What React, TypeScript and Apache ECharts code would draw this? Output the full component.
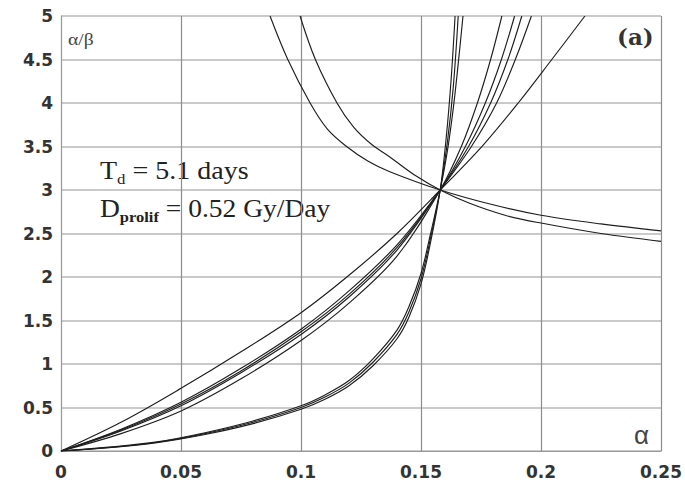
import React, { useEffect, useRef } from "react";
import * as echarts from "echarts";

// Steep family (three nearly coincident curves)
const steep1 = [[0, 0], [0.02, 0.045], [0.04, 0.105], [0.06, 0.21], [0.08, 0.345], [0.1, 0.52], [0.11, 0.645], [0.12, 0.81], [0.13, 1.06], [0.14, 1.39], [0.145, 1.66], [0.15, 2.04], [0.154, 2.5], [0.158, 3.0], [0.161, 3.45], [0.1635, 3.95], [0.1655, 4.45], [0.1675, 5.0]];
const steep2 = [[0, 0], [0.02, 0.04], [0.04, 0.1], [0.06, 0.2], [0.08, 0.33], [0.1, 0.5], [0.11, 0.62], [0.12, 0.78], [0.13, 1.02], [0.14, 1.34], [0.145, 1.6], [0.15, 1.98], [0.154, 2.45], [0.158, 3.0], [0.161, 3.55], [0.1635, 4.2], [0.1655, 5.0]];
const steep3 = [[0, 0], [0.02, 0.038], [0.04, 0.096], [0.06, 0.19], [0.08, 0.315], [0.1, 0.48], [0.11, 0.595], [0.12, 0.75], [0.13, 0.98], [0.14, 1.29], [0.145, 1.54], [0.15, 1.92], [0.154, 2.4], [0.158, 3.0], [0.1605, 3.6], [0.1625, 4.25], [0.1642, 5.0]];

// Flattest increasing curve
const upper = [[0, 0], [0.025, 0.33], [0.05, 0.72], [0.075, 1.14], [0.1, 1.59], [0.12, 2.02], [0.14, 2.5], [0.158, 3.0], [0.176, 3.52], [0.1905, 4.0], [0.2045, 4.5], [0.2183, 5.0]];

// Middle family
const mid1 = [[0, 0], [0.025, 0.25], [0.05, 0.56], [0.075, 0.95], [0.1, 1.4], [0.12, 1.84], [0.14, 2.37], [0.158, 3.0], [0.171, 3.5], [0.1815, 4.0], [0.1893, 4.5], [0.196, 5.0]];
const mid2 = [[0, 0], [0.025, 0.24], [0.05, 0.54], [0.075, 0.92], [0.1, 1.37], [0.12, 1.8], [0.14, 2.34], [0.158, 3.0], [0.1698, 3.5], [0.179, 4.0], [0.1862, 4.5], [0.192, 5.0]];
const mid3 = [[0, 0], [0.025, 0.23], [0.05, 0.52], [0.075, 0.9], [0.1, 1.34], [0.12, 1.77], [0.14, 2.31], [0.158, 3.0], [0.1685, 3.5], [0.1768, 4.0], [0.1835, 4.5], [0.189, 5.0]];
const lower = [[0, 0], [0.025, 0.2], [0.05, 0.46], [0.075, 0.83], [0.1, 1.27], [0.12, 1.7], [0.14, 2.24], [0.158, 3.0], [0.1668, 3.5], [0.1735, 4.0], [0.179, 4.5], [0.1837, 5.0]];

// Decreasing curves
const decA = [[0.0871, 5], [0.0945, 4.5], [0.1038, 4.0], [0.111, 3.7], [0.119, 3.5], [0.128, 3.33], [0.137, 3.21], [0.158, 3.0], [0.18, 2.83], [0.2, 2.71], [0.225, 2.61], [0.25, 2.53]];
const decB = [[0.0996, 5], [0.106, 4.5], [0.115, 4.0], [0.122, 3.72], [0.1296, 3.52], [0.137, 3.38], [0.148, 3.16], [0.158, 3.0], [0.17, 2.85], [0.185, 2.71], [0.2, 2.62], [0.225, 2.5], [0.25, 2.41]];

const allCurves = [steep1, steep2, steep3, upper, mid1, mid2, mid3, lower, decA, decB];

export default function App() {
  const ref = useRef<HTMLDivElement>(null);
  useEffect(() => {
    const chart = echarts.init(ref.current as HTMLDivElement, null, { renderer: "svg" });
    const series = allCurves.map((data) => ({
      type: "line",
      data,
      showSymbol: false,
      symbol: "none",
      smooth: 0.35,
      silent: true,
      lineStyle: { color: "#1e1e1e", width: 1.15 },
    }));
    const labelStyle = { color: "#333", fontSize: 17, fontWeight: "bold", fontFamily: "DejaVu Sans, sans-serif" };
    chart.setOption({
      animation: false,
      backgroundColor: "#fff",
      grid: { left: 61, right: 24, top: 16, bottom: 34 },
      xAxis: {
        type: "value",
        min: 0,
        max: 0.25,
        interval: 0.05,
        axisLine: { show: true, lineStyle: { color: "#999", width: 1 } },
        axisTick: { show: false },
        axisLabel: { ...labelStyle, margin: 12 },
        splitLine: { show: true, lineStyle: { color: "#8c8c8c", width: 1.2 } },
      },
      yAxis: {
        type: "value",
        min: 0,
        max: 5,
        interval: 0.5,
        axisLine: { show: true, lineStyle: { color: "#999", width: 1 } },
        axisTick: { show: false },
        axisLabel: { ...labelStyle, margin: 8 },
        splitLine: { show: true, lineStyle: { color: "#b8b8b8", width: 1.5 } },
      },
      series,
      graphic: [
        {
          type: "text",
          x: 68,
          y: 31,
          scaleX: 1.15,
          style: { text: "α/β", font: "17px 'Liberation Serif'", fill: "#444", align: "left", verticalAlign: "top" },
        },
        {
          type: "text",
          x: 100,
          y: 156,
          scaleX: 1.12,
          style: {
            text: "{n|T}{s|d}{n| = 5.1 days}",
            align: "left",
            verticalAlign: "top",
            rich: {
              n: { fontSize: 25, fontFamily: "Liberation Serif", fill: "#222", lineHeight: 30 },
              s: { fontSize: 15, fontFamily: "Liberation Serif", fill: "#222", lineHeight: 10, verticalAlign: "bottom" },
            },
          },
        },
        {
          type: "text",
          x: 100,
          y: 194,
          scaleX: 1.1,
          style: {
            text: "{n|D}{s|prolif}{n| = 0.52 Gy/Day}",
            align: "left",
            verticalAlign: "top",
            rich: {
              n: { fontSize: 25, fontFamily: "Liberation Serif", fill: "#222", lineHeight: 30 },
              s: { fontSize: 15, fontWeight: "bold", fontFamily: "Liberation Serif", fill: "#222", lineHeight: 10, verticalAlign: "bottom" },
            },
          },
        },
        {
          type: "text",
          x: 617,
          y: 25,
          style: { text: "(a)", font: "bold 23px 'DejaVu Serif'", fill: "#333", align: "left", verticalAlign: "top" },
        },
        {
          type: "text",
          x: 634,
          y: 422,
          style: { text: "α", font: "26px 'Liberation Sans'", fill: "#444", align: "left", verticalAlign: "top" },
        },
      ],
    });
    return () => chart.dispose();
  }, []);
  return <div ref={ref} style={{ position: "fixed", left: 0, top: 0, width: 685, height: 485 }} />;
}
